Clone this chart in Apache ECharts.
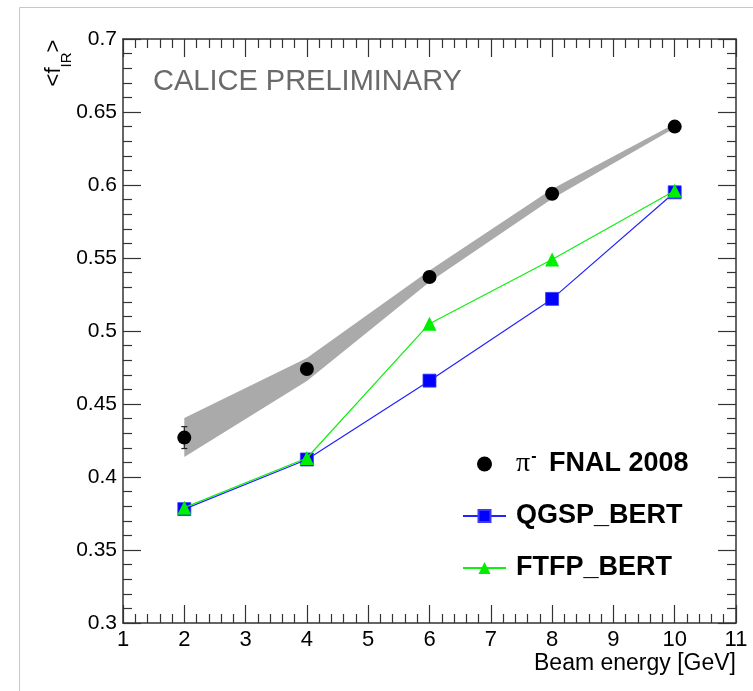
<!DOCTYPE html>
<html>
<head>
<meta charset="utf-8">
<script src="https://cdn.jsdelivr.net/npm/echarts@6/dist/echarts.min.js"></script>
<style>
  html, body { margin: 0; padding: 0; background: #fff; }
  #chart { width: 753px; height: 691px; }
</style>
</head>
<body>
<div id="chart"></div>
<script>
// Beam energies [GeV]
const energies = [2, 4, 6, 8, 10];
// Measured mean fraction, pi- FNAL 2008, with statistical errors
const dataFnal = [0.427, 0.474, 0.537, 0.594, 0.640];
const dataFnalErr = [0.0075, 0.003, 0.003, 0.003, 0.003];
// Systematic uncertainty band of the measurement
const bandLow = [0.4137, 0.4657, 0.5335, 0.5905, 0.6390];
const bandHigh = [0.4404, 0.4815, 0.5415, 0.5972, 0.6420];
// Simulation physics lists
const qgspBert = [0.378, 0.412, 0.466, 0.522, 0.595];
const ftfpBert = [0.379, 0.413, 0.505, 0.549, 0.596];

// Axis ranges
const xRange = [1, 11];
const yRange = [0.3, 0.7];

const seriesNames = ['π- FNAL 2008', 'QGSP_BERT', 'FTFP_BERT'];

const FONT = 'Liberation Sans, Arial, Helvetica, sans-serif';
const AXIS_COLOR = '#333';

const pairs = (xs, ys) => xs.map((x, i) => [x, ys[i]]);

function makeXAxis(position, showLabels) {
  return {
    type: 'value', position, min: xRange[0], max: xRange[1], interval: 1,
    splitLine: { show: false },
    axisLine: { show: true, onZero: false, lineStyle: { color: AXIS_COLOR, width: 1.5 } },
    axisTick: { show: true, inside: true, length: 18, lineStyle: { color: AXIS_COLOR, width: 1.2 } },
    minorTick: { show: true, splitNumber: 5, length: 9, lineStyle: { color: AXIS_COLOR, width: 1.2 } },
    axisLabel: { show: showLabels, color: '#000', fontSize: 22, fontFamily: FONT, margin: 6 }
  };
}
function makeYAxis(position, showLabels) {
  return {
    type: 'value', position, min: yRange[0], max: yRange[1], interval: 0.05,
    splitLine: { show: false },
    axisLine: { show: true, onZero: false, lineStyle: { color: AXIS_COLOR, width: 1.5 } },
    axisTick: { show: true, inside: true, length: 18, lineStyle: { color: AXIS_COLOR, width: 1.2 } },
    minorTick: { show: true, splitNumber: 5, length: 9, lineStyle: { color: AXIS_COLOR, width: 1.2 } },
    axisLabel: { show: showLabels, color: '#000', fontSize: 21, fontFamily: FONT, margin: 6 }
  };
}

const xBottom = makeXAxis('bottom', true);
xBottom.name = 'Beam energy [GeV]';
xBottom.nameLocation = 'end';
xBottom.nameGap = 0;
xBottom.nameTextStyle = {
  color: '#000', fontSize: 23, fontFamily: FONT,
  align: 'right', verticalAlign: 'top', padding: [29, 0, 0, 0]
};

const chart = echarts.init(document.getElementById('chart'), null, { renderer: 'canvas' });

chart.setOption({
  animation: false,
  backgroundColor: '#fff',
  grid: { left: 123, top: 39, right: 17, bottom: 68, containLabel: false },
  xAxis: [xBottom, makeXAxis('top', false)],
  yAxis: [makeYAxis('left', true), makeYAxis('right', false)],
  legend: {
    orient: 'vertical',
    left: 462, top: 449, padding: 0,
    itemWidth: 43, itemHeight: 15, itemGap: 22,
    data: seriesNames,
    formatter: name => name.startsWith('π') ? '{pi|π}{sup|-} FNAL 2008' : name,
    textStyle: {
      color: '#000', fontSize: 27, fontWeight: 'bold', fontFamily: FONT, lineHeight: 30,
      padding: [0, 0, 0, 5],
      rich: {
        pi: { fontFamily: 'Liberation Serif, Times New Roman, serif', fontSize: 28, fontWeight: 'normal', lineHeight: 30 },
        sup: { fontSize: 16, fontWeight: 'bold', verticalAlign: 'top', lineHeight: 16, padding: [0, 5, 0, 1] }
      }
    }
  },
  graphic: [
    {
      type: 'polyline', silent: true,
      shape: { points: [[19.5, 691], [19.5, 7.5], [753, 7.5]] },
      style: { stroke: '#c8c8c8', lineWidth: 1, fill: null }
    },
    {
      type: 'text', left: 153, top: 67, silent: true,
      style: { text: 'CALICE PRELIMINARY', fill: '#6a6a6a', fontSize: 29, fontFamily: FONT }
    },
    {
      type: 'text', x: 54, y: 63, rotation: Math.PI / 2, silent: true,
      style: {
        text: '<f{sub|IR}>', fill: '#000', fontSize: 22, fontFamily: FONT,
        align: 'center', verticalAlign: 'middle', lineHeight: 40,
        rich: { sub: { fontSize: 15, fontFamily: FONT, verticalAlign: 'bottom', lineHeight: 12 } }
      }
    }
  ],
  series: [
    {
      // systematic band drawn as a single filled polygon
      type: 'custom', name: 'band', silent: true, z: 1,
      data: energies.map((x, i) => [x, bandLow[i], bandHigh[i]]),
      renderItem: (params, api) => {
        if (params.dataIndex !== 0) return null;
        const lower = energies.map((x, i) => api.coord([x, bandLow[i]]));
        const upper = energies.map((x, i) => api.coord([x, bandHigh[i]])).reverse();
        return { type: 'polygon', shape: { points: lower.concat(upper) }, style: { fill: '#aaaaaa', stroke: null } };
      }
    },
    {
      name: 'QGSP_BERT', type: 'line', z: 3,
      data: pairs(energies, qgspBert),
      symbol: 'rect', symbolSize: 13,
      lineStyle: { color: '#2222ff', width: 1.2 },
      itemStyle: { color: '#0000ff', borderColor: '#3a3aff', borderWidth: 0.8, opacity: 1 }
    },
    {
      name: 'FTFP_BERT', type: 'line', z: 4,
      data: pairs(energies, ftfpBert),
      symbol: 'triangle', symbolSize: 14,
      lineStyle: { color: '#11ee11', width: 1.2 },
      itemStyle: { color: '#00ee00', opacity: 1 }
    },
    {
      // statistical error bars
      type: 'custom', name: 'errors', silent: true, z: 5,
      data: energies.map((x, i) => [x, dataFnal[i], dataFnalErr[i]]),
      renderItem: (params, api) => {
        const x = api.value(0), y = api.value(1), e = api.value(2);
        const hi = api.coord([x, y + e]);
        const lo = api.coord([x, y - e]);
        const st = { stroke: '#222', lineWidth: 1.2 };
        return {
          type: 'group',
          children: [
            { type: 'line', shape: { x1: hi[0], y1: hi[1], x2: lo[0], y2: lo[1] }, style: st },
            { type: 'line', shape: { x1: hi[0] - 3, y1: hi[1], x2: hi[0] + 3, y2: hi[1] }, style: st },
            { type: 'line', shape: { x1: lo[0] - 3, y1: lo[1], x2: lo[0] + 3, y2: lo[1] }, style: st }
          ]
        };
      }
    },
    {
      name: 'π- FNAL 2008', type: 'scatter', z: 6,
      data: pairs(energies, dataFnal),
      symbol: 'circle', symbolSize: 14,
      itemStyle: { color: '#000', opacity: 1 }
    }
  ]
});
</script>
</body>
</html>
